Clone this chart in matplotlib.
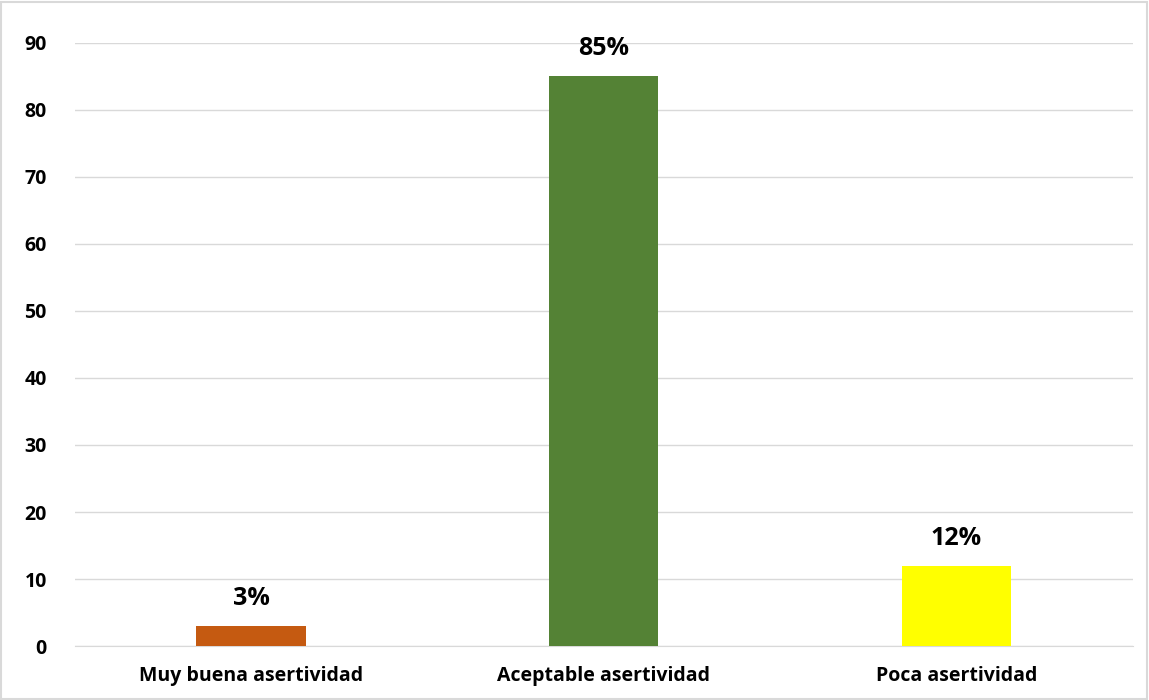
import matplotlib.pyplot as plt
from matplotlib.patches import Rectangle

categories = ["Muy buena asertividad", "Aceptable asertividad", "Poca asertividad"]
values = [3, 85, 12]
labels = ["3%", "85%", "12%"]
colors = ["#C55A11", "#548235", "#FFFF00"]
yticks = [0, 10, 20, 30, 40, 50, 60, 70, 80, 90]

plt.rcParams['font.family'] = ['Open Sans', 'DejaVu Sans']

fig = plt.figure(figsize=(11.49, 7.0), dpi=100)
ax = fig.add_axes([0.065, 0.077, 0.921, 0.862])

x = range(len(categories))
bars = ax.bar(x, values, width=0.31, color=colors, zorder=3)

for b, lab in zip(bars, labels):
    ax.text(b.get_x() + b.get_width() / 2, b.get_height() + 2.2, lab,
            ha="center", va="bottom", fontsize=18, fontweight="bold")

ax.set_xlim(-0.5, 2.5)
ax.set_ylim(0, 90)
ax.set_yticks(yticks)
ax.set_yticklabels([str(t) for t in yticks], fontsize=14, fontweight="bold")
ax.set_xticks(list(x))
ax.set_xticklabels(categories, fontsize=14, fontweight="bold")
ax.tick_params(axis="x", length=0, pad=14)
ax.tick_params(axis="y", length=0, pad=20)

ax.grid(axis="y", color="#D9D9D9", linewidth=1, zorder=0)
for s in ["top", "right", "left"]:
    ax.spines[s].set_visible(False)
ax.spines["bottom"].set_color("#D9D9D9")

# light frame around the chart area
fig.patches.append(Rectangle((0.001, 0.002), 0.997, 0.995, transform=fig.transFigure,
                             fill=False, edgecolor="#D9D9D9", linewidth=1.5))

plt.savefig("out.png")
plt.close()
